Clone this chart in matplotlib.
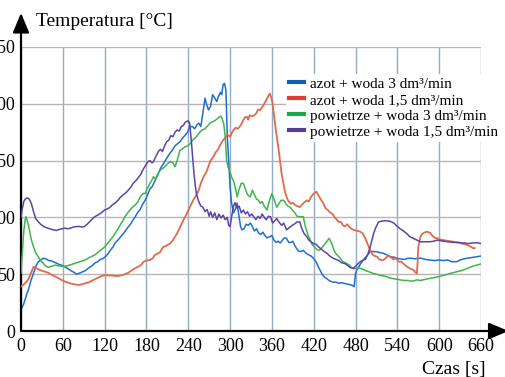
import matplotlib
matplotlib.use("Agg")
import matplotlib.pyplot as plt
from matplotlib.lines import Line2D

plt.rcParams['font.family'] = ['Liberation Serif', 'DejaVu Serif']

# --- dane: pary (czas [s], temperatura [°C]) ---
labels = [
    'azot + woda 3 dm³/min',
    'azot + woda 1,5 dm³/min',
    'powietrze + woda 3 dm³/min',
    'powietrze + woda 1,5 dm³/min',
]

azot_3 = [
    (0, 18.5), (4, 24), (8, 32), (11, 37), (14, 44), (18, 51), (22, 58), (25, 61), (29, 63), (32, 64),
    (36, 63.5), (40, 62), (44, 61.6), (50, 60), (55, 58.5), (58, 58), (63, 56.5), (67, 55), (70, 53.7),
    (75, 52), (80, 50), (84, 51), (88, 52), (92, 53), (97, 55.5), (102, 57.5), (106, 59.8), (110, 61),
    (114, 63), (118, 64), (121, 65.4), (125, 68), (128, 71), (132, 74), (135, 77.5), (139, 80), (143, 83),
    (146, 85), (149, 87.4), (153, 91), (157, 94), (160, 97), (164, 100.6), (167, 104), (171, 107),
    (174, 111), (178, 115), (181, 119), (185, 125), (188, 127), (192, 132), (196, 137), (200, 143),
    (204, 147), (207, 150), (211, 154), (214, 156.7), (218, 160), (221, 163), (225, 165), (228, 166.6),
    (232, 170), (235, 172), (239, 175), (242, 179.8), (246, 180), (249, 178), (252, 181), (255, 183),
    (258, 180), (261, 192), (264, 205), (266, 200), (269, 194.5), (272, 198), (275, 208), (278, 205),
    (281, 202), (283, 206), (286, 210), (288, 208), (290, 217), (292, 218), (294, 212), (296, 171),
    (298, 150), (300, 127), (302, 113), (305, 104), (308, 108), (310, 112.6), (313, 100), (315, 92),
    (317, 89), (320, 90), (323, 94), (326, 93), (329, 95), (332, 92), (335, 88), (338, 90), (341, 86),
    (344, 85), (347, 87), (350, 84), (353, 82), (357, 83), (360, 84), (363, 80), (366, 78), (369, 79),
    (372, 77.5), (375, 80), (378, 82), (381, 81.6), (384, 78), (387, 78), (390, 79), (393, 75), (396, 72),
    (399, 70), (402, 70), (405, 71), (408, 69), (410, 68), (413, 67), (416, 66), (419, 64.5), (422, 62),
    (424, 60), (427, 56), (429, 53.7), (432, 50), (436, 47), (439, 46), (443, 44), (448, 43), (452, 43),
    (456, 42), (460, 42.5), (463, 42), (467, 41.5), (470, 41), (474, 40.5), (477, 39.5), (478, 39),
    (480, 50.8), (482, 54), (486, 58), (491, 62.5), (496, 66), (501, 69.8), (505, 70), (510, 69.8),
    (515, 69), (520, 68.4), (525, 67), (530, 65.4), (535, 65), (540, 64), (544, 63.4), (550, 63),
    (555, 64), (560, 64), (565, 63.5), (570, 64), (575, 64), (580, 63), (587, 62.5), (593, 62),
    (600, 62.5), (606, 62), (612, 62.5), (618, 61), (625, 61), (630, 62.5), (635, 63.5), (640, 64),
    (645, 64.5), (650, 65), (655, 65.5), (660, 66),
]

azot_15 = [
    (0, 39), (4, 41), (8, 43.4), (11, 46), (13, 49), (15, 52), (18, 56.6), (20, 56), (25, 54.3), (30, 53),
    (35, 52), (39, 51.3), (44, 49.5), (49, 48), (54, 46.4), (58, 45), (63, 43.5), (68, 42.5), (73, 41.5),
    (78, 41), (82, 40.5), (87, 41), (92, 42), (97, 42.8), (101, 44), (106, 45.5), (111, 47), (116, 48.5),
    (120, 49), (125, 49), (130, 48.8), (135, 48.5), (140, 48.4), (144, 49), (149, 50), (154, 51.3),
    (158, 53), (163, 55), (168, 56.6), (172, 58), (176, 61), (180, 62), (185, 62.5), (189, 64), (192, 67),
    (196, 68), (200, 69.8), (204, 74), (207, 74.5), (211, 76), (214, 77), (218, 80), (221, 83), (224, 86),
    (228, 91), (233, 97.7), (236, 101), (240, 106), (243, 110), (247, 115), (251, 119), (255, 124),
    (258, 130), (262, 135.8), (266, 140), (269, 145), (272, 150), (276, 153.4), (279, 157), (283, 160),
    (286, 164), (290, 168), (293, 170), (296, 173), (300, 171), (303, 175), (305, 177), (308, 179),
    (311, 178), (314, 180), (317, 183), (319, 185.7), (321, 188), (324, 188.6), (326, 186), (328, 190),
    (331, 189), (335, 190), (338, 192), (340, 195), (343, 194.5), (346, 197), (349, 200), (353, 204.8),
    (355, 207), (357, 209), (359, 206), (361, 200), (363, 190), (365, 180), (367, 171), (370, 158),
    (372, 147.6), (374, 138), (377, 128.5), (379, 122), (381, 118), (384, 114), (387, 112), (390, 113),
    (393, 111), (396, 110), (400, 109), (403, 111), (406, 113), (410, 115), (413, 114), (416, 118),
    (420, 121), (424, 122.6), (427, 119), (431, 115), (434, 112), (437, 108), (440, 106.5), (444, 104),
    (447, 103), (450, 100), (453, 98), (456, 96), (459, 96), (462, 93), (465, 92), (468, 94), (471, 91.8),
    (474, 90), (477, 89), (480, 88.5), (483, 88), (487, 87.4), (490, 86), (494, 81.6), (497, 77),
    (501, 71), (505, 67), (508, 66), (511, 65.4), (514, 63), (517, 62.5), (520, 62.5), (523, 64),
    (526, 66), (530, 65.4), (534, 63), (538, 64), (542, 61), (546, 61), (549, 59), (553, 57), (558, 55),
    (563, 53.7), (566, 51.5), (568, 50.8), (569, 60), (570, 74), (572, 80), (573, 83), (575, 85),
    (578, 86.5), (582, 87.4), (587, 86.5), (590, 84), (594, 82), (597, 81.6), (602, 80.5), (606, 80),
    (611, 79.5), (616, 79), (621, 78.6), (625, 78), (630, 77.5), (635, 76.6), (639, 76), (643, 75),
    (646, 74), (649, 72.8), (651, 73),
]

powietrze_3 = [
    (0, 51), (2, 70), (4, 88), (6, 98), (7, 100.6), (9, 97), (11, 92), (13, 86), (15, 80), (18, 74),
    (21, 69), (25, 65), (28, 62), (32, 59.6), (35, 57.5), (39, 56), (44, 57), (49, 58), (53, 57.5),
    (58, 57), (63, 57), (67, 57.5), (72, 58.5), (78, 59.6), (82, 60.5), (87, 61.5), (92, 62.5), (96, 64),
    (101, 65.5), (106, 67), (110, 69), (115, 71.5), (120, 74), (124, 77), (128, 80), (132, 83), (135, 86),
    (139, 89.5), (142, 93), (146, 97), (149, 100.6), (153, 104), (157, 107), (160, 109), (164, 111),
    (168, 114), (171, 118), (175, 121), (178, 121), (181, 125), (185, 130), (188, 133), (190, 135.8),
    (193, 134), (196, 138), (200, 141.7), (203, 143), (207, 145), (210, 147), (214, 149), (218, 148),
    (221, 144.6), (224, 150), (228, 159), (231, 160), (235, 162), (239, 163), (243, 165), (246, 168),
    (250, 170), (253, 172), (257, 175.4), (260, 177), (264, 178), (267, 180), (271, 182.8), (274, 184),
    (278, 185), (282, 187), (285, 188.6), (287, 189), (289, 186), (291, 182), (293, 171), (295, 150),
    (297, 144.6), (300, 140), (302, 135.8), (305, 132), (308, 125), (310, 118), (313, 125), (316, 130),
    (319, 130), (322, 125), (325, 120), (329, 118), (332, 124), (335, 120), (338, 116), (341, 115),
    (343, 112.4), (346, 114), (349, 110), (353, 106.5), (356, 114), (360, 121), (363, 116), (367, 109),
    (370, 112), (373, 115), (377, 115), (380, 112), (383, 110), (386, 109), (390, 106), (393, 104),
    (396, 101), (400, 100.6), (405, 100.6), (408, 92), (412, 84), (415, 80), (418, 76), (421, 74),
    (424, 72), (427, 71), (430, 72), (434, 75), (438, 78), (442, 81.6), (446, 77), (449, 71), (452, 68),
    (455, 66), (458, 64), (462, 61), (467, 59.6), (471, 58), (474, 56), (477, 55), (481, 55), (485, 55.5),
    (490, 54.5), (495, 53), (500, 52), (505, 50.8), (510, 50), (515, 49), (520, 48.5), (525, 47.8),
    (530, 46.5), (535, 46), (540, 45.5), (544, 45), (550, 44.5), (555, 44.5), (558, 44), (563, 44),
    (568, 45), (573, 44.5), (580, 45.5), (587, 46.4), (593, 47), (600, 48), (606, 49), (612, 50),
    (618, 51), (624, 52), (630, 52.8), (636, 54), (642, 55.5), (648, 57), (654, 58), (660, 59),
]

powietrze_15 = [
    (0, 100), (2, 108), (4, 114), (6, 116), (8, 117), (10, 117), (12, 116), (15, 112), (18, 105), (21, 99),
    (25, 96), (29, 93.5), (34, 91.5), (39, 90.5), (43, 89.5), (47, 89), (51, 88.5), (55, 89.5), (59, 90),
    (63, 90.6), (67, 90), (71, 90.5), (75, 91.5), (80, 92), (84, 92), (88, 91.5), (91, 92), (95, 94),
    (99, 96.5), (103, 99), (106, 100.6), (110, 102), (114, 103.5), (117, 105), (120, 106.5), (124, 107.5),
    (128, 109), (131, 111), (135, 112.6), (139, 115), (143, 118), (147, 120), (151, 122), (154, 124),
    (158, 127), (161, 130), (165, 132.5), (168, 134.7), (172, 138), (175, 142), (179, 146), (182, 149),
    (185, 150), (188, 148), (190, 149), (193, 153), (197, 158), (200, 160), (203, 158), (206, 163),
    (209, 166.6), (212, 168), (215, 172), (218, 171), (221, 175), (224, 177), (227, 176), (230, 180),
    (233, 181), (236, 184), (240, 185), (242, 183), (244, 170), (246, 155), (248, 140), (250, 128),
    (252, 120), (255, 114), (258, 110), (261, 109), (264, 105), (267, 107), (270, 101), (272, 105),
    (275, 100), (278, 104), (281, 98), (284, 103), (287, 99.5), (290, 102), (293, 98), (296, 100),
    (298, 93), (300, 92), (302, 100), (305, 110), (307, 113), (310, 108), (313, 110), (316, 104),
    (319, 106.5), (322, 103), (325, 105), (328, 101), (331, 103), (334, 100.6), (337, 98), (340, 101),
    (343, 99), (346, 103), (349, 100), (352, 98), (355, 101), (358, 100.6), (361, 95), (364, 97),
    (367, 99), (370, 96), (374, 93), (377, 95), (381, 89), (385, 91), (389, 93), (392, 94), (396, 96),
    (400, 96), (403, 90), (406, 86), (410, 83), (413, 80), (417, 78), (420, 77), (424, 76), (427, 74),
    (431, 72), (435, 70), (439, 68.4), (443, 66), (448, 64), (452, 63), (456, 62), (460, 60),
    (464, 59.6), (468, 58), (472, 56), (477, 55), (480, 57), (484, 59.6), (487, 61), (491, 62.5),
    (494, 63), (498, 68), (501, 74), (506, 86), (509, 91), (513, 96), (516, 96.5), (520, 97), (525, 97),
    (530, 96.5), (535, 95), (540, 92), (544, 90), (549, 88), (553, 86), (558, 83), (563, 81.5),
    (568, 80), (573, 78.6), (578, 78.5), (583, 78.6), (587, 78.6), (592, 79), (597, 80), (602, 79.5),
    (607, 79), (614, 78.5), (620, 78), (627, 78), (635, 77.5), (642, 77), (648, 77.5), (654, 77.7),
    (660, 77),
]

x_ticks = list(range(0, 661, 60))
y_ticks = list(range(0, 251, 50))

line_colors = ['#1f6fcf', '#e06b4c', '#40b54c', '#5a45a6']
line_widths = [1.1, 1.3, 1.1, 1.1]
legend_colors = ['#1060b8', '#e8392f', '#1aa84f', '#5a3a9a']

fig = plt.figure(figsize=(5.06, 3.77), dpi=100)
ax = fig.add_axes([21 / 506, 46 / 377, 460 / 506, 284 / 377])

series = [azot_3, azot_15, powietrze_3, powietrze_15]
for i in [1, 2, 3, 0]:
    t, T = zip(*series[i])
    ax.plot(t, T, color=line_colors[i], lw=line_widths[i], zorder=3 + i * 0.1)

ax.set_xlim(0, 660)
ax.set_ylim(0, 250)
ax.set_xticks(x_ticks)
ax.set_yticks(y_ticks)
ax.tick_params(axis='both', length=0, labelsize=13)
ax.tick_params(axis='x', pad=5)
ax.tick_params(axis='y', pad=4)
ax.grid(axis='x', color='#93adc6', lw=1.0)
ax.grid(axis='y', color='#bab2b4', lw=1.0)
ax.set_axisbelow(True)
for s in ax.spines.values():
    s.set_visible(False)

# osie ze strzałkami
arrow = dict(arrowstyle='-|>,head_length=0.6,head_width=0.25', color='black', lw=1.6,
             mutation_scale=20, shrinkA=0, shrinkB=0)
ax.annotate('', xy=(0, 1.12), xytext=(0, 0), xycoords='axes fraction', arrowprops=arrow,
            annotation_clip=False)
ax.annotate('', xy=(1.06, 0), xytext=(0, 0), xycoords='axes fraction', arrowprops=arrow,
            annotation_clip=False)

fig.text(36 / 506, 1 - 21 / 377, 'Temperatura [°C]', fontsize=14, va='center', ha='left')
fig.text(422 / 506, 1 - 361 / 377, 'Czas [s]', fontsize=14, va='top', ha='left')

handles = [Line2D([0], [0], color=c, lw=3) for c in legend_colors]
leg = fig.legend(handles, labels, loc='upper left', bbox_to_anchor=(286 / 506, 1 - 74 / 377),
                 fontsize=11, frameon=True, handlelength=1.0, handletextpad=0.4,
                 labelspacing=0.15, borderpad=0.2, borderaxespad=0)
leg.get_frame().set_facecolor('white')
leg.get_frame().set_edgecolor('none')
leg.get_frame().set_alpha(1)

fig.savefig('out.png', dpi=100)
